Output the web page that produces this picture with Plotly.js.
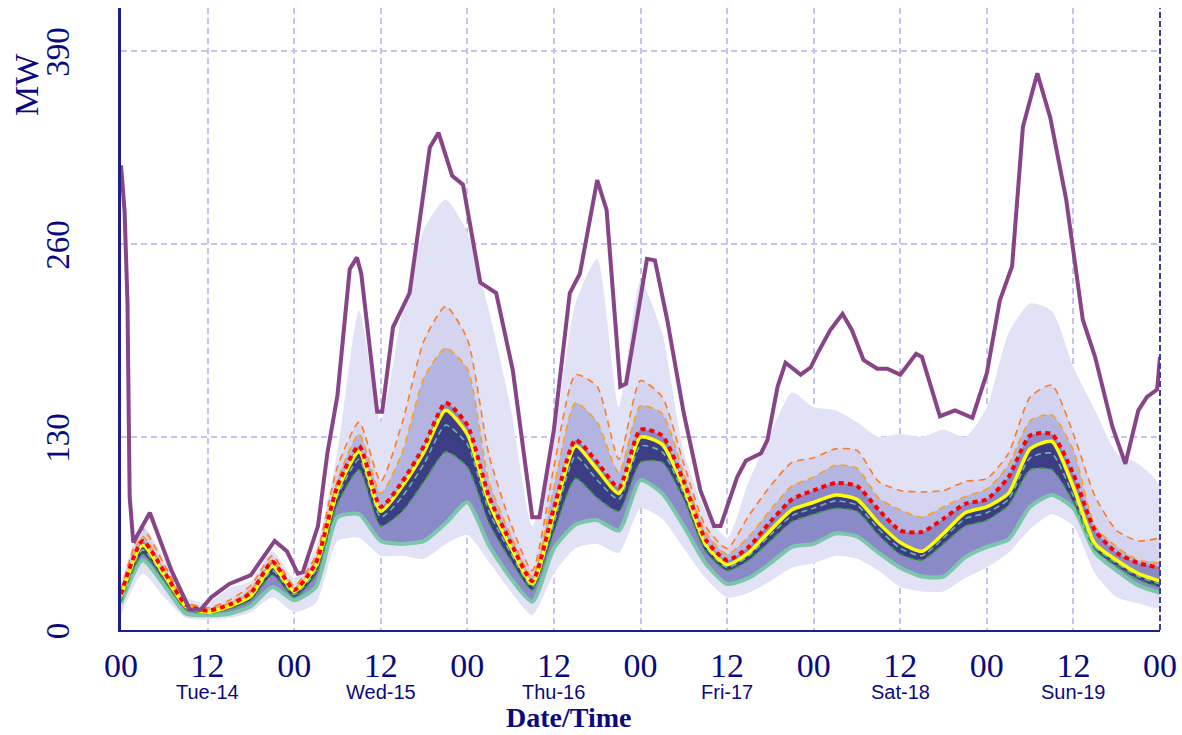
<!DOCTYPE html>
<html>
<head>
<meta charset="utf-8">
<script src="https://cdn.plot.ly/plotly-3.0.1.min.js"></script>
<style>html,body{margin:0;padding:0;background:#fff;}#chart{width:1182px;height:735px;}</style>
</head>
<body>
<div id="chart"></div>
<script>
// time axis in hours from Tue-14 00:00
const hours = [0,3,6,9,12,15,18,21,24,27,30,33,36,39,42,45,48,51,54,57,60,63,66,69,72,75,78,81,84,87,90,93,96,99,102,105,108,111,114,117,120,123,126,129,132,135,138,141,144];
const median = [23,57,37,16,12,16,23,43,26,43,94,120,80,97,120,148,132,86,56,31,78,124,108,92,130,125,96,58,44,52,67,81,86,91,88,72,59,53,65,79,83,92,122,127,96,58,47,38,33];
const mean = [24,60,39,17,13,17,25,46,27,45,97,124,83,100,124,153,138,90,59,33,82,128,113,96,135,131,100,61,47,56,73,88,94,99,97,81,67,66,75,85,88,103,131,132,105,67,52,45,42];
const pHigh1 = [27,68,44,19,15,20,30,50,30,50,110,140,100,140,195,218,196,118,72,40,110,172,164,115,168,157,112,70,55,77,97,113,116,122,121,100,94,93,94,100,102,119,157,165,132,90,67,60,62];
const pHigh2 = [25,63,41,18,14,18,27,47,28,47,101,132,92,120,170,190,176,100,64,36,96,153,140,106,151,146,105,66,51,63,81,97,103,111,109,89,81,76,83,90,95,111,141,145,121,70,56,47,45];
const pLow1 = [21,54,35,15,12,15,22,40,24,40,90,115,76,90,112,138,125,80,52,29,72,117,101,88,124,120,92,56,42,50,64,77,82,87,84,68,55,50,62,75,79,88,116,119,90,56,45,36,31];
const pLow2 = [19,51,33,14,11,14,20,37,22,37,85,108,70,80,100,120,110,72,47,27,66,102,89,80,113,113,88,53,40,47,60,73,78,82,80,64,51,47,58,70,74,84,108,108,86,54,43,34,29];
const minimum = [18,47,30,11,10,11,16,29,20,29,76,78,60,58,60,72,86,57,35,19,55,71,74,67,101,92,70,45,31,35,45,56,58,65,63,52,42,36,36,49,56,61,83,91,82,52,40,30,25];
const envHigh = [32,70,48,22,18,28,33,53,35,55,120,215,140,215,270,290,268,215,150,70,130,220,250,150,235,200,120,80,62,100,132,160,150,148,140,130,132,130,135,130,150,200,220,215,177,148,119,112,97];
const envLow = [10,38,22,8,7,8,12,22,12,18,60,62,50,50,48,58,64,46,26,10,38,55,58,52,82,75,55,35,22,25,33,42,45,50,48,40,29,26,26,35,42,52,68,78,70,38,22,18,15];
// maximum member (own time points)
const maxHours = [0,0.5,0.9,1.2,1.7,4,7,9.5,11,12.5,15,18,21.3,23,24.5,25.2,27.3,28.6,30,31.7,32.7,33.3,35.5,36.2,37.7,40,42.8,44,45.9,47.4,49.8,52,54.3,57,58,60,62.2,63.6,66,67.3,69.2,70,72.9,74,75.7,78,80.3,82.2,83.1,85.4,86.6,88.7,89.6,91,92.1,94.2,95.6,96.5,98.3,100,101.3,102.9,104.8,106.2,108,110.2,111,113.5,115.6,118,120,121.8,123.5,125,127,128.8,131,133.3,135,137.4,139.2,141,142.2,143.6,144];
const maxVals = [313,282,220,90,59,79,40,14,13.5,22,31,37,60,53,38,39,70,119,158,243,251,240,147,147,204,227,325,335,306,300,234,227,175,76,76,135,227,240,303,283,164,166,250,249,209,146,94,70,70,103,114,119,128,164,180,172,177,186,202,213,202,182,176,176,172,186,184,144,148,143,173,222,245,339,375,345,290,209,184,137,112,148,157,162,184];
const tickHours = [0,12,24,36,48,60,72,84,96,108,120,132,144];
const tickText = ['00','12','00','12','00','12','00','12','00','12','00','12','00'];
const dayHours = [12,36,60,84,108,132];
const dayLabels = ['Tue-14','Wed-15','Thu-16','Fri-17','Sat-18','Sun-19'];
const yTicks = [0,130,260,390];

const NAVY = '#0a0a80';
const SERIF = 'Liberation Serif, Times New Roman, serif';
const sm = 0.6;
function band(upper, lower, color) {
  return {
    x: hours.concat(hours.slice().reverse()),
    y: upper.concat(lower.slice().reverse()),
    type: 'scatter', mode: 'lines', fill: 'toself', fillcolor: color,
    line: {width: 0, shape: 'spline', smoothing: sm},
    hoverinfo: 'skip', showlegend: false
  };
}
function line(vals, color, width, dash) {
  return {
    x: hours, y: vals, type: 'scatter', mode: 'lines',
    line: {color: color, width: width, dash: dash || 'solid', shape: 'spline', smoothing: sm},
    hoverinfo: 'skip', showlegend: false
  };
}
const traces = [
  band(envHigh, envLow, '#e2e2f7'),
  band(pHigh1, minimum, '#d4d4f1'),
  band(pHigh2, minimum, '#b4b4e0'),
  band(mean, minimum, '#8a8ac8'),
  band(median, pLow2, '#3d3d86'),
  line(minimum, '#7cc6ac', 4),
  line(pLow2, '#3c9c3c', 1.6, '6px,4px'),
  line(pLow1, '#6ab8a8', 1.6, '6px,4px'),
  line(pHigh1, '#ff7a22', 1.6, '7px,5px'),
  line(pHigh2, '#ffa010', 1.6, '7px,5px'),
  line(median, '#ffff00', 3.5),
  line(mean, '#ff0000', 4, '5px,4px'),
  {x: maxHours, y: maxVals, type: 'scatter', mode: 'lines',
   line: {color: '#884488', width: 4}, hoverinfo: 'skip', showlegend: false}
];

const annotations = dayLabels.map((t, i) => ({
  x: dayHours[i], xref: 'x', y: -0.1, yref: 'paper', text: t, showarrow: false,
  font: {family: 'Liberation Sans, Arial, sans-serif', size: 20, color: NAVY},
  xanchor: 'center', yanchor: 'middle'
}));
annotations.push({
  x: 62, xref: 'x', y: -0.14, yref: 'paper', text: '<b>Date/Time</b>', showarrow: false,
  font: {family: SERIF, size: 28, color: NAVY},
  xanchor: 'center', yanchor: 'middle'
});
annotations.push({
  x: -0.091, xref: 'paper', y: 0.877, yref: 'paper', text: 'MW', showarrow: false, textangle: -90,
  font: {family: SERIF, size: 34, color: NAVY},
  xanchor: 'center', yanchor: 'middle'
});

const layout = {
  width: 1182, height: 735,
  margin: {l: 121, r: 22, t: 8, b: 105},
  paper_bgcolor: '#ffffff', plot_bgcolor: '#ffffff',
  showlegend: false,
  xaxis: {
    range: [0, 144], tickmode: 'array', tickvals: tickHours, ticktext: tickText,
    showgrid: true, gridcolor: '#c4c4f0', gridwidth: 2, griddash: '6px,4px',
    zeroline: false, showline: true, linecolor: '#1e1e8c', linewidth: 2, ticks: '',
    ticklabelstandoff: 4,
    tickfont: {family: SERIF, size: 34, color: NAVY}
  },
  yaxis: {
    range: [0, 419], tickmode: 'array', tickvals: yTicks, tickangle: -90,
    showgrid: true, gridcolor: '#c4c4f0', gridwidth: 2, griddash: '6px,4px',
    zeroline: false, showline: true, linecolor: '#1e1e8c', linewidth: 3, ticks: '',
    ticklabelstandoff: 36, ticklabelshift: 6,
    tickfont: {family: SERIF, size: 33, color: NAVY}
  },
  shapes: [{type: 'line', xref: 'paper', yref: 'paper', x0: 1, x1: 1, y0: 0, y1: 1,
            line: {color: '#3c3ca8', width: 2, dash: '6px,3px'}}],
  annotations: annotations
};
Plotly.newPlot('chart', traces, layout, {staticPlot: true, displayModeBar: false});
</script>
</body>
</html>
